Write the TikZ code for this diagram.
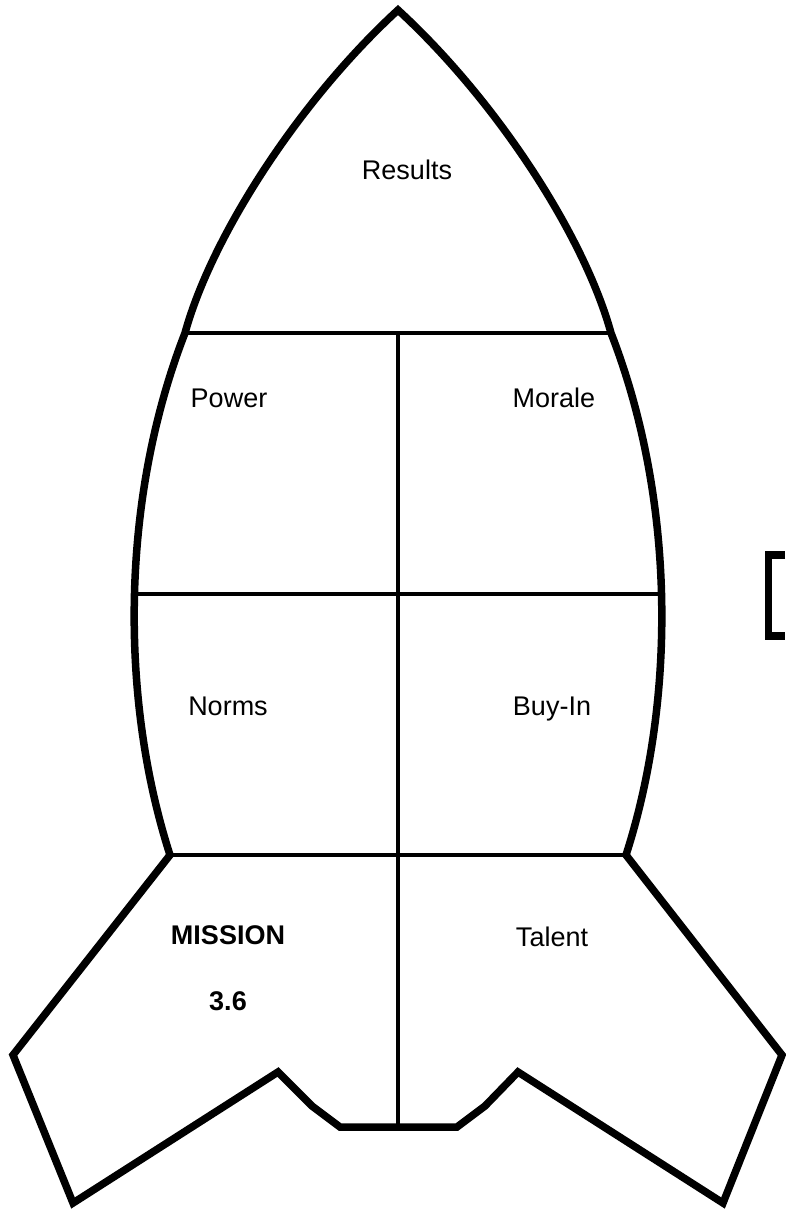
\documentclass[tikz,border=0pt]{standalone}
\usepackage{fontspec}
\setmainfont{Liberation Sans}
\usetikzlibrary{positioning}

\begin{document}
\begin{tikzpicture}[
    x=1pt,y=-1pt,
    hull/.style={draw=black,line width=7.5pt,line join=miter},
    seam/.style={draw=black,line width=4.8pt},
    lbl/.style={font=\fontsize{27}{31}\selectfont,inner sep=0pt,
                text height=19.3pt,text depth=0pt},
    lblb/.style={lbl,font=\fontsize{27}{31}\selectfont\bfseries}
  ]
    \useasboundingbox (0,0) rectangle (785,1210);
    % rocket points
    \coordinate (tip) at (398,10);
    \coordinate (nl) at (185,333);
    \coordinate (nr) at (611,333);
    \coordinate (ml) at (133,594);
    \coordinate (mr) at (663,594);
    \coordinate (bl) at (170,855);
    \coordinate (br) at (626,855);
    \coordinate (ntop) at (398,333);
    \coordinate (nbot) at (398,1127);
    % seams
    \draw[seam] (nl) -- (nr);
    \draw[seam] (ml) -- (mr);
    \draw[seam] (bl) -- (br);
    \draw[seam] (ntop) -- (nbot);
    % hull
    \draw[hull] (tip) .. controls (300,100) and (212,235) .. (nl)
      .. controls (120,500) and (120,700) .. (bl)
      -- (13,1055) -- (73,1203) -- (278,1072) -- (312,1106) -- (340,1127)
      -- (457,1127) -- (485,1106) -- (518,1072) -- (723,1203) -- (782,1055)
      -- (br) .. controls (676,700) and (676,500) .. (nr)
      .. controls (584,235) and (496,100) .. (tip) -- cycle;
    % bracket at the right edge
    \draw[hull] (785,555) -- (768.5,555) -- (768.5,636) -- (785,636);
    \node[lbl] (results) at (407,170) {Results};
    \node[lbl] (power) at (229,398) {Power};
    \node[lbl] (morale) at (554,398) {Morale};
    \node[lbl] (norms) at (228,706) {Norms};
    \node[lbl] (buyin) at (552,706) {Buy-In};
    \node[lblb] (mission) at (228,935) {MISSION};
    \node[lblb] (score) at (228,1001) {3.6};
    \node[lbl] (talent) at (552,937) {Talent};
\end{tikzpicture}
\end{document}
